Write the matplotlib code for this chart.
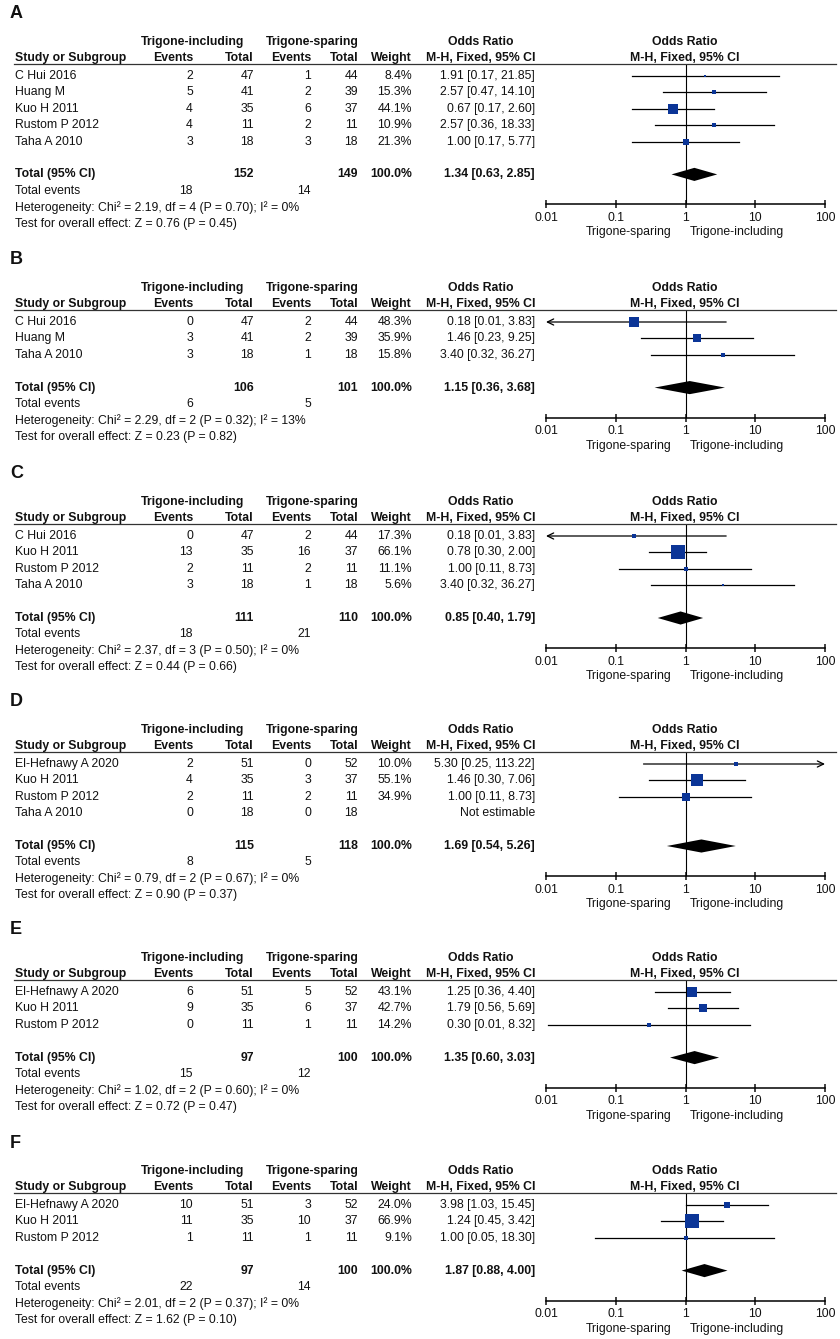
import matplotlib
matplotlib.use("Agg")
import matplotlib.pyplot as plt
from matplotlib.lines import Line2D

# ---- data ----
a_study = ["C Hui 2016", "Huang M", "Kuo H 2011", "Rustom P 2012", "Taha A 2010"]
a_ev1 = [2, 5, 4, 4, 3]
a_tot1 = [47, 41, 35, 11, 18]
a_ev2 = [1, 2, 6, 2, 3]
a_tot2 = [44, 39, 37, 11, 18]
a_weight = [8.4, 15.3, 44.1, 10.9, 21.3]
a_or = [1.91, 2.57, 0.67, 2.57, 1.00]
a_lo = [0.17, 0.47, 0.17, 0.36, 0.17]
a_hi = [21.85, 14.10, 2.60, 18.33, 5.77]
a_total = [152, 149, 18, 14]
a_pooled = [1.34, 0.63, 2.85]
a_het = "Heterogeneity: Chi\u00b2 = 2.19, df = 4 (P = 0.70); I\u00b2 = 0%"
a_z = "Test for overall effect: Z = 0.76 (P = 0.45)"

b_study = ["C Hui 2016", "Huang M", "Taha A 2010"]
b_ev1 = [0, 3, 3]
b_tot1 = [47, 41, 18]
b_ev2 = [2, 2, 1]
b_tot2 = [44, 39, 18]
b_weight = [48.3, 35.9, 15.8]
b_or = [0.18, 1.46, 3.40]
b_lo = [0.0085, 0.23, 0.32]
b_hi = [3.83, 9.25, 36.27]
b_total = [106, 101, 6, 5]
b_pooled = [1.15, 0.36, 3.68]
b_het = "Heterogeneity: Chi\u00b2 = 2.29, df = 2 (P = 0.32); I\u00b2 = 13%"
b_z = "Test for overall effect: Z = 0.23 (P = 0.82)"

c_study = ["C Hui 2016", "Kuo H 2011", "Rustom P 2012", "Taha A 2010"]
c_ev1 = [0, 13, 2, 3]
c_tot1 = [47, 35, 11, 18]
c_ev2 = [2, 16, 2, 1]
c_tot2 = [44, 37, 11, 18]
c_weight = [17.3, 66.1, 11.1, 5.6]
c_or = [0.18, 0.78, 1.00, 3.40]
c_lo = [0.0085, 0.30, 0.11, 0.32]
c_hi = [3.83, 2.00, 8.73, 36.27]
c_total = [111, 110, 18, 21]
c_pooled = [0.85, 0.40, 1.79]
c_het = "Heterogeneity: Chi\u00b2 = 2.37, df = 3 (P = 0.50); I\u00b2 = 0%"
c_z = "Test for overall effect: Z = 0.44 (P = 0.66)"

d_study = ["El-Hefnawy A 2020", "Kuo H 2011", "Rustom P 2012", "Taha A 2010"]
d_ev1 = [2, 4, 2, 0]
d_tot1 = [51, 35, 11, 18]
d_ev2 = [0, 3, 2, 0]
d_tot2 = [52, 37, 11, 18]
d_weight = [10.0, 55.1, 34.9, None]
d_or = [5.30, 1.46, 1.00, None]
d_lo = [0.25, 0.30, 0.11, None]
d_hi = [113.22, 7.06, 8.73, None]
d_total = [115, 118, 8, 5]
d_pooled = [1.69, 0.54, 5.26]
d_het = "Heterogeneity: Chi\u00b2 = 0.79, df = 2 (P = 0.67); I\u00b2 = 0%"
d_z = "Test for overall effect: Z = 0.90 (P = 0.37)"

e_study = ["El-Hefnawy A 2020", "Kuo H 2011", "Rustom P 2012"]
e_ev1 = [6, 9, 0]
e_tot1 = [51, 35, 11]
e_ev2 = [5, 6, 1]
e_tot2 = [52, 37, 11]
e_weight = [43.1, 42.7, 14.2]
e_or = [1.25, 1.79, 0.30]
e_lo = [0.36, 0.56, 0.0108]
e_hi = [4.40, 5.69, 8.32]
e_total = [97, 100, 15, 12]
e_pooled = [1.35, 0.60, 3.03]
e_het = "Heterogeneity: Chi\u00b2 = 1.02, df = 2 (P = 0.60); I\u00b2 = 0%"
e_z = "Test for overall effect: Z = 0.72 (P = 0.47)"

f_study = ["El-Hefnawy A 2020", "Kuo H 2011", "Rustom P 2012"]
f_ev1 = [10, 11, 1]
f_tot1 = [51, 35, 11]
f_ev2 = [3, 10, 1]
f_tot2 = [52, 37, 11]
f_weight = [24.0, 66.9, 9.1]
f_or = [3.98, 1.24, 1.00]
f_lo = [1.03, 0.45, 0.05]
f_hi = [15.45, 3.42, 18.30]
f_total = [97, 100, 22, 14]
f_pooled = [1.87, 0.88, 4.00]
f_het = "Heterogeneity: Chi\u00b2 = 2.01, df = 2 (P = 0.37); I\u00b2 = 0%"
f_z = "Test for overall effect: Z = 1.62 (P = 0.10)"

panels = [
    ("A", a_study, a_ev1, a_tot1, a_ev2, a_tot2, a_weight, a_or, a_lo, a_hi, a_total, a_pooled, a_het, a_z),
    ("B", b_study, b_ev1, b_tot1, b_ev2, b_tot2, b_weight, b_or, b_lo, b_hi, b_total, b_pooled, b_het, b_z),
    ("C", c_study, c_ev1, c_tot1, c_ev2, c_tot2, c_weight, c_or, c_lo, c_hi, c_total, c_pooled, c_het, c_z),
    ("D", d_study, d_ev1, d_tot1, d_ev2, d_tot2, d_weight, d_or, d_lo, d_hi, d_total, d_pooled, d_het, d_z),
    ("E", e_study, e_ev1, e_tot1, e_ev2, e_tot2, e_weight, e_or, e_lo, e_hi, e_total, e_pooled, e_het, e_z),
    ("F", f_study, f_ev1, f_tot1, f_ev2, f_tot2, f_weight, f_or, f_lo, f_hi, f_total, f_pooled, f_het, f_z),
]

# ---- layout (pixels) ----
W, H = 840, 1339
row0s = [76, 322, 536, 764, 992, 1205]
step = 16.4
FS = 8.8
BLUE = "#0b3597"
X0, X1 = 546, 825   # 0.01 ... 100 on the log axis

plt.rcParams['font.family'] = ['Liberation Sans', 'DejaVu Sans']
fig = plt.figure(figsize=(W / 100, H / 100), dpi=100)


def put(x, y, s, ha="left", bold=False, size=FS):
    fig.text(x / W, 1 - y / H, s, ha=ha, va="center", fontsize=size,
             fontweight="bold" if bold else "normal", color="#111111")


for (lab, study, ev1, tot1, ev2, tot2, wt, orr, lo, hi, tot, pooled, het, z), r0 in zip(panels, row0s):
    n = len(study)
    y = lambda i: r0 + i * step

    put(10, r0 - 62, lab, bold=True, size=13)
    # headers
    put(193, r0 - 34, "Trigone-including", ha="center", bold=True)
    put(312, r0 - 34, "Trigone-sparing", ha="center", bold=True)
    put(481, r0 - 34, "Odds Ratio", ha="center", bold=True)
    put(685, r0 - 34, "Odds Ratio", ha="center", bold=True)
    put(15, r0 - 18, "Study or Subgroup", bold=True)
    put(193, r0 - 18, "Events", ha="right", bold=True)
    put(254, r0 - 18, "Total", ha="right", bold=True)
    put(311, r0 - 18, "Events", ha="right", bold=True)
    put(358, r0 - 18, "Total", ha="right", bold=True)
    put(412, r0 - 18, "Weight", ha="right", bold=True)
    put(481, r0 - 18, "M-H, Fixed, 95% CI", ha="center", bold=True)
    put(685, r0 - 18, "M-H, Fixed, 95% CI", ha="center", bold=True)
    fig.add_artist(Line2D([14 / W, 836 / W], [1 - (r0 - 12) / H] * 2, color="#333333", lw=0.9))

    # study rows
    for i in range(n):
        put(15, y(i), study[i])
        put(193, y(i), str(ev1[i]), ha="right")
        put(254, y(i), str(tot1[i]), ha="right")
        put(311, y(i), str(ev2[i]), ha="right")
        put(358, y(i), str(tot2[i]), ha="right")
        if orr[i] is None:
            put(535, y(i), "Not estimable", ha="right")
        else:
            put(412, y(i), "%.1f%%" % wt[i], ha="right")
            put(535, y(i), "%.2f [%.2f, %.2f]" % (orr[i], lo[i], hi[i]), ha="right")

    t = n + 1
    put(15, y(t), "Total (95% CI)", bold=True)
    put(254, y(t), str(tot[0]), ha="right", bold=True)
    put(358, y(t), str(tot[1]), ha="right", bold=True)
    put(412, y(t), "100.0%", ha="right", bold=True)
    put(535, y(t), "%.2f [%.2f, %.2f]" % tuple(pooled), ha="right", bold=True)
    put(15, y(t + 1), "Total events")
    put(193, y(t + 1), str(tot[2]), ha="right")
    put(311, y(t + 1), str(tot[3]), ha="right")
    put(15, y(t + 2), het)
    put(15, y(t + 3), z)

    # forest plot axes
    top_px = r0 - 12
    bot_px = y(t) + 30
    ax = fig.add_axes([X0 / W, 1 - bot_px / H, (X1 - X0) / W, (bot_px - top_px) / H])
    ax.set_xscale("log")
    ax.set_xlim(0.01, 100)
    ax.set_ylim((bot_px - r0) / step, (top_px - r0) / step)
    ax.patch.set_visible(False)
    for s in ["top", "left", "right"]:
        ax.spines[s].set_visible(False)
    ax.spines["bottom"].set_linewidth(1.1)
    ax.set_yticks([])
    ax.set_xticks([0.01, 0.1, 1, 10, 100])
    ax.set_xticklabels(["0.01", "0.1", "1", "10", "100"])
    ax.minorticks_off()
    ax.tick_params(axis="x", direction="inout", length=6, width=1.1, pad=2.5, labelsize=FS, colors="#111111")
    ax.axvline(1, color="black", lw=0.8)

    for i in range(n):
        if orr[i] is None:
            continue
        a, b = max(lo[i], 0.01), min(hi[i], 100)
        if lo[i] < 0.01:
            ax.annotate("", xy=(0.01, i), xytext=(b, i),
                        arrowprops=dict(arrowstyle="->,head_length=0.45,head_width=0.22", lw=0.9,
                                        color="black", shrinkA=0, shrinkB=0))
        elif hi[i] > 100:
            ax.annotate("", xy=(100, i), xytext=(a, i),
                        arrowprops=dict(arrowstyle="->,head_length=0.45,head_width=0.22", lw=0.9,
                                        color="black", shrinkA=0, shrinkB=0))
        else:
            ax.plot([a, b], [i, i], color="black", lw=0.9)
        # square side grows with the study weight
        side = (1.5 + 0.175 * wt[i]) * 0.72
        ax.scatter([orr[i]], [i], marker="s", s=side ** 2, color=BLUE, linewidths=0, zorder=3)

    po, pl, ph = pooled
    ax.fill([pl, po, ph, po], [t, t - 0.4, t, t + 0.4], color="black", lw=0)

    put(672, bot_px + 28, "Trigone-sparing", ha="right")
    put(690, bot_px + 28, "Trigone-including", ha="left")

fig.savefig("out.png", dpi=100)
